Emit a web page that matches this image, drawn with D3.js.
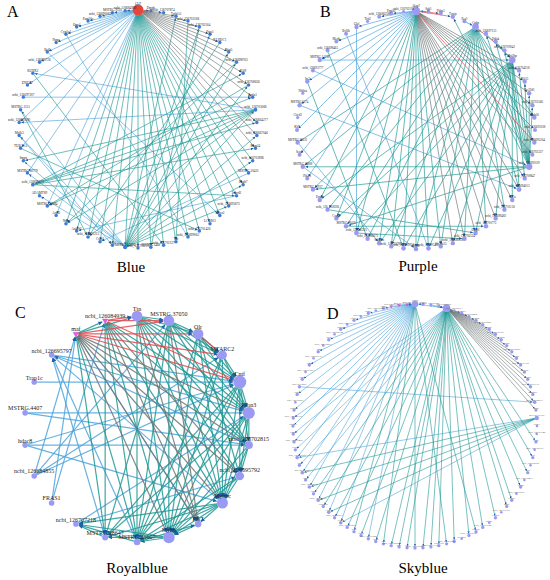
<!DOCTYPE html>
<html>
<head>
<meta charset="utf-8">
<script src="https://cdn.jsdelivr.net/npm/d3@7"></script>
<style>
  body { margin: 0; background: #fff; }
  svg { display: block; }
</style>
</head>
<body>
<svg id="chart" width="550" height="580"></svg>
<script>
// Node names, clockwise from the top of each circle
const aNames = `GLP Dmpk ncbi_126707874 Tgfb1i1 ncbi_126703168 ncbi_126702504 Ptgs1 KLHDC1 Nfat5
ncbi_126698763 Klf9 ncbi_126708636 Ppfia1 ncbi_126703068 ncbi_126664277 ncbi_126667046 Rbm24
ncbi_126702896 MSTRG.20431 Hspb7 Lmod2 ncbi_126695873 Myoz2 LCOR11 ncbi_126701426 ncbi_126699063
Ttn ncbi_126702127 MSTRG.1462 ncbi_126703219 MSTRG.15294 Tcap Csrp3 ncbi_126695215 Ankrd1 Nrap
Actn2 MSTRG.18084 ADAMTS9 ncbi_126696673 MSTRG.18779 Smpx TUBA1A Mylk3 ncbi_126689380 MSTRG.1131
ncbi_126697207 ZNF287 RUNX2 ncbi_126695726 Bcl6 Nppa Cyp1a1 Opn4 Fam20c ncbi_126690082
MSTRG.9335 ncbi_126684939`.split(/\s+/);

const bNames = `Akap7 Sgk1 Fkbp5 Txnip Per3 Cirbp ncbi_126697113 Ddit4 ncbi_126709042 Hsf2bp
ncbi_126704218 Klf15 Tsc22d3 ncbi_126703566 Zbtb16 ncbi_126693108 ncbi_126695264 ncbi_126702337
ncbi_126692019 ncbi_126708847 ncbi_126694013 Mt2a ncbi_126701156 ncbi_126699482 ncbi_126700775
Dusp1 ncbi_126706524 ncbi_126688931 Slc25a25 ncbi_126695402 Rhob ncbi_126692736 ncbi_126701789
Cdkn1a ncbi_126086675 ncbi_126703221 MSTRG.29418 Ccng2 ncbi_126_N38206 Errfi1 MSTRG.10937 Pik3r1
MSTRG.28808 Sesn1 MSTRG.33631 Klf9 Cited2 MSTRG.5574 Nfkbia Irs2 ncbi_126693777 MSTRG.14238
ncbi_126698465 Mertk Bcl6b Glul Tob2 ncbi_126686258 Pnpla2 ncbi_126702118`.split(/\s+/);

const cNames = ["Ttn", "MSTRG.37050", "Olr", "MTARC2", "Cntf", "Pcon3", "ncbi_126702815",
  "ncbi_126695792", "Mybpc", "Ptk7", "Myh6", "MSTRG.25607", "MSTRG.28647", "ncbi_126707218",
  "FRAS1", "ncbi_126684855", "hdac8", "MSTRG.4407", "Trap1c", "ncbi_126695797", "maf",
  "ncbi_126084939"];
// degree of each node in panel C
const cDegree = [27, 27, 27, 19, 40, 34, 15, 17, 29, 10, 32, 10, 8, 7, 7, 7, 7, 7, 7, 7, 24, 18];

const dNames = `Hspa8 Dnajb1 ncbi_126696040 Bag3 Hsp90aa1 ncbi_126708113 Chordc1 ncbi_126694472 Hspa4l
ncbi_126705823 Stip1 ncbi_126700196 Fkbp4 Hsph1 ncbi_126692860 Ahsa1 ncbi_126703355 Cacybp Dnaja1
ncbi_126697739 Serpinh1 ncbi_126688211 Hspd1 MSTRG.21187 Hspe1 ncbi_126701642 Cct2 ncbi_126706915
Tcp1 ncbi_126694320 Cct5 ncbi_126702473 Pdia4 ncbi_126699057 Hyou1 Manf ncbi_126707390 Creld2
Sdf2l1 ncbi_126693624 Dnajb9 ncbi_126705181 Herpud1 Atf3 ncbi_126691246 Ppp1r15a MSTRG.7716 Jun
ncbi_126700628 Fos Egr1 ncbi_126698954 Ier2 Btg2 ncbi_126703840 Zfp36 Klf4 ncbi_126687502 Nr4a1
ncbi_126709611 Cyr61 Gadd45b ncbi_126695017 Ddit3 ncbi_126704752 Trib3 MSTRG.30441 Asns
ncbi_126690389 Sesn2 ncbi_126697468 Chac1 Slc7a11 ncbi_126701935 Mthfd2 ncbi_126706277 Psat1
MSTRG.2583 Phgdh ncbi_126693891 Vegfa ncbi_126699716 Adm ncbi_126702051 Stc2 ncbi_126688744
Ankrd37 ncbi_126705339 Pfkfb3 MSTRG.12906 Bnip3 ncbi_126696502 Egln3 novel-miR-12 miR-1a-3p
miR-206`.split(/\s+/);
const dMirna = [93, 94, 95];

// Edges: [source, edge class, [targets]]
// classes: t = teal, b = light blue, g = grey, r = red
const aEdges = [
  [0, "r", [1]],
  [0, "g", [2, 3, 4, 5, 6, 7, 8, 9, 10, 11, 12, 14, 15, 16]],
  [0, "t", [17, 18, 19, 20, 21, 22, 23, 24, 25, 26, 27, 28, 29, 30, 31, 32, 33, 34, 35]],
  [0, "b", [36, 37, 40, 42, 44, 47, 49, 50, 51, 52, 53, 54, 55, 56, 57]],
  [30, "t", [3, 5, 6, 8, 9, 11, 13, 15, 17, 19, 21]],
  [30, "b", [38, 40, 41, 43, 45]],
  [13, "t", [33, 35, 37, 39, 41]],
  [13, "b", [44, 48]],
  [39, "t", [10, 12, 14, 16, 20]],
  [46, "b", [12]], [50, "b", [22]], [52, "b", [25]], [48, "t", [27]], [42, "t", [24]],
  [7, "t", [33]], [9, "t", [35]], [18, "b", [32]], [20, "b", [34]], [11, "t", [37]],
  [5, "t", [28]], [4, "t", [26]], [43, "b", [31]], [45, "t", [33]]
];

const bEdges = [
  [0, "r", [2, 3, 16]],
  [5, "r", [8]],
  [0, "g", [10, 11, 12, 13, 14, 15, 17, 19, 20, 21, 22, 23, 24, 25, 26, 27]],
  [0, "t", [28, 29, 30, 31, 32, 33, 35, 37, 39]],
  [0, "b", [41, 43, 45, 47, 49, 51, 53, 55, 57, 58]],
  [5, "t", [14, 16, 18, 20, 22, 24, 26, 28, 30, 32, 34, 36, 38, 40, 42, 44]],
  [9, "t", [18, 19, 20, 21, 23, 25, 27, 29, 31, 33, 35, 37, 39]],
  [18, "t", [3, 6, 7, 8, 10, 11, 12, 13, 36, 40, 42]],
  [51, "b", [9]], [47, "b", [20]], [50, "b", [18]], [44, "b", [33]], [42, "b", [30]],
  [52, "t", [31]], [54, "b", [29]], [36, "t", [24]], [38, "t", [25]], [35, "t", [26]],
  [49, "t", [34]], [55, "b", [35]], [1, "t", [0]], [4, "t", [5]], [6, "t", [9]], [7, "t", [9]]
];

const cEdges = [
  [0, "t", [1, 2, 3, 4, 5, 6, 7, 8, 10, 11]],
  [1, "t", [2, 3, 4, 5, 6, 8, 10, 11, 12]],
  [2, "t", [3, 4, 5, 7, 8, 10, 11]],
  [3, "t", [4, 5, 8, 10, 11]],
  [4, "t", [5, 6, 7, 8, 10, 11, 12]],
  [5, "t", [6, 7, 8, 10, 11, 12]],
  [6, "t", [7, 8, 10]],
  [7, "t", [8, 10, 11]],
  [8, "t", [9, 10, 11, 12, 13]],
  [9, "t", [10]],
  [10, "t", [11, 12, 13]],
  [11, "t", [9, 13]],
  [12, "t", [13]],
  [21, "t", [5, 6, 8, 10, 11, 12]],
  [20, "t", [0, 11, 12, 21]],
  [20, "g", [5, 6, 7, 8, 9, 10]],
  [21, "g", [7, 9]],
  [0, "g", [9]],
  [1, "g", [9]],
  [20, "r", [1, 2, 3, 4]],
  [21, "r", [0, 1, 4]],
  [2, "r", [3]],
  [19, "b", [4, 5, 8]],
  [18, "b", [4]],
  [17, "b", [5, 6]],
  [16, "b", [4, 6, 8]],
  [15, "b", [1, 3, 4, 20]],
  [14, "b", [20, 21]],
  [13, "b", [5, 7]],
  [12, "b", [19]],
  [11, "b", [19]],
  [6, "b", [19]],
  [9, "b", [20]]
];

const dEdges = [
  [0, "b", [54, 58, 60, 62, 64, 66, 68, 70, 72, 74, 76, 78, 80, 82, 84, 86, 88, 90, 92]],
  [0, "t", [40, 44, 48, 52, 56]],
  [4, "t", [26, 28, 30, 32, 34, 35, 37, 39, 41, 43, 45, 46, 47, 49, 50, 51, 53, 55, 57, 59, 61, 63]],
  [4, "g", [6, 7, 8, 9, 10, 11, 12, 13, 14, 15, 16, 17, 18, 19, 20, 21, 22]],
  [4, "b", [65, 67, 69, 71, 73]],
  [23, "t", [60, 62, 64, 66]],
  [23, "b", [58, 68]],
  [0, "b", [4]], [93, "b", [0]], [94, "b", [0]], [95, "b", [0]],
  [1, "t", [0]], [2, "t", [4]], [3, "t", [4]], [77, "b", [21]]
];

const serif = "'Liberation Serif', 'Times New Roman', Times, serif";

const panels = [
  { letter: "A", title: "Blue", names: aNames, edges: aEdges, cx: 138, cy: 129, r: 119,
    lx: 7, ly: 17, tx: 131, ty: 272, font: 3.3, width: 0.75, arrow: 2.6,
    rRange: [1.7, 2.4], hub: 0, node: "#3b7dd8" },
  { letter: "B", title: "Purple", names: bNames, edges: bEdges, cx: 416, cy: 130, r: 119,
    lx: 320, ly: 17, tx: 418, ty: 271, font: 3.1, width: 0.8, arrow: 2.6,
    rRange: [1.6, 4.2], node: "#9a9af5" },
  { letter: "C", title: "Royalblue", names: cNames, edges: cEdges, cx: 137, cy: 429, r: 113,
    lx: 15, ly: 318, tx: 137, ty: 573, font: 6, width: 1.2, arrow: 4,
    rRange: [2.8, 6.5], degree: cDegree, mirna: [20, 21], tri: 5.5, node: "#9a9af5" },
  { letter: "D", title: "Skyblue", names: dNames, edges: dEdges, cx: 415, cy: 426, r: 122,
    lx: 327, ly: 319, tx: 423, ty: 573, font: 2.5, width: 0.7, arrow: 2.2,
    rRange: [1.3, 3.8], mirna: dMirna, tri: 3, node: "#9a9af5" }
];

const edgeColor = d3.scaleOrdinal()
  .domain(["b", "t", "g", "r"])
  .range(["#4fa3da", "#1e9894", "#6e7676", "#e2484e"]);

const svg = d3.select("#chart");
const defs = svg.append("defs");

panels.forEach((p, pi) => {
  const n = p.names.length;
  const angle = d3.scaleLinear().domain([0, n]).range([0, 2 * Math.PI]);

  const nodes = p.names.map((name, i) => ({
    name, i,
    x: p.cx + p.r * Math.sin(angle(i)),
    y: p.cy - p.r * Math.cos(angle(i))
  }));

  const links = p.edges.flatMap(([s, type, ts]) => ts.map((t) => ({ s, t, type })));
  const order = edgeColor.domain();
  links.sort((a, b) => order.indexOf(a.type) - order.indexOf(b.type));

  // node size from degree
  const deg = new Array(n).fill(0);
  links.forEach((l) => { deg[l.s]++; deg[l.t]++; });
  const values = p.degree || deg;
  const rScale = d3.scaleSqrt().domain(d3.extent(values)).range(p.rRange);
  nodes.forEach((d) => (d.rad = rScale(values[d.i])));
  if (p.hub !== undefined) nodes[p.hub].rad = 5.5;
  const mirna = p.mirna || [];
  mirna.forEach((i) => (nodes[i].rad = p.tri / 2));

  defs.append("marker")
    .attr("id", "arrow" + pi)
    .attr("viewBox", "0 -3 6 6")
    .attr("refX", 6)
    .attr("markerWidth", p.arrow)
    .attr("markerHeight", p.arrow)
    .attr("markerUnits", "userSpaceOnUse")
    .attr("orient", "auto")
    .append("path")
    .attr("d", "M0,-3L6,0L0,3Z")
    .attr("fill", "#1d5fa6");

  const g = svg.append("g");

  // edges, shortened to the rim of each node
  g.append("g")
    .selectAll("line")
    .data(links)
    .join("line")
    .each(function (d) {
      const a = nodes[d.s], b = nodes[d.t];
      const dx = b.x - a.x, dy = b.y - a.y;
      const len = Math.hypot(dx, dy);
      d3.select(this)
        .attr("x1", a.x + (dx / len) * a.rad)
        .attr("y1", a.y + (dy / len) * a.rad)
        .attr("x2", b.x - (dx / len) * (b.rad + 0.3))
        .attr("y2", b.y - (dy / len) * (b.rad + 0.3));
    })
    .attr("stroke", (d) => edgeColor(d.type))
    .attr("stroke-width", p.width)
    .attr("stroke-opacity", 0.85)
    .attr("marker-end", `url(#arrow${pi})`);

  const circles = nodes.filter((d) => !mirna.includes(d.i));
  const triangles = nodes.filter((d) => mirna.includes(d.i));

  g.append("g")
    .selectAll("circle")
    .data(circles)
    .join("circle")
    .attr("cx", (d) => d.x)
    .attr("cy", (d) => d.y)
    .attr("r", (d) => d.rad)
    .attr("fill", (d) => (d.i === p.hub ? "#e4463c" : p.node));

  g.append("g")
    .selectAll("path")
    .data(triangles)
    .join("path")
    .attr("transform", (d) => `translate(${d.x},${d.y}) rotate(180)`)
    .attr("d", d3.symbol(d3.symbolTriangle, p.tri * p.tri * 0.45)())
    .attr("fill", "#e35ee3")
    .attr("stroke", "#b23cb8")
    .attr("stroke-width", 0.3);

  // node labels, centred just above the node
  g.append("g")
    .selectAll("text")
    .data(nodes)
    .join("text")
    .attr("x", (d) => d.x)
    .attr("y", (d) => d.y - d.rad + 0.3)
    .attr("text-anchor", "middle")
    .attr("font-family", serif)
    .attr("font-size", p.font)
    .attr("fill", pi === 3 ? "#555" : "#222")
    .text((d) => d.name);

  svg.append("text")
    .attr("x", p.lx)
    .attr("y", p.ly)
    .attr("font-family", serif)
    .attr("font-size", 16)
    .attr("fill", "#000")
    .text(p.letter);

  svg.append("text")
    .attr("x", p.tx)
    .attr("y", p.ty)
    .attr("text-anchor", "middle")
    .attr("font-family", serif)
    .attr("font-size", 15)
    .attr("fill", "#000")
    .text(p.title);
});
</script>
</body>
</html>
